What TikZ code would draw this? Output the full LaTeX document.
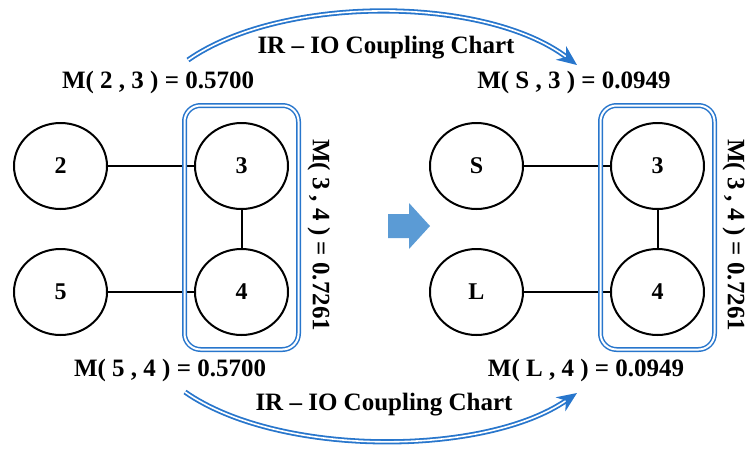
\documentclass[tikz,border=0pt]{standalone}
\usepackage{fontspec}
\setmainfont{Liberation Serif}
\usetikzlibrary{arrows.meta,shapes.geometric}
\definecolor{boxblue}{RGB}{40,118,204}
\definecolor{arrowblue}{RGB}{91,155,213}

\begin{document}
\begin{tikzpicture}[x=1pt,y=-1pt,
    vertex/.style={ellipse,draw,line width=2pt,minimum width=93pt,minimum height=86pt,inner sep=0pt,font=\fontsize{24}{24}\selectfont\bfseries},
    link/.style={line width=2pt},
    value/.style={inner sep=0pt,font=\fontsize{25}{25}\selectfont\bfseries},
    group/.style={draw=boxblue,double=white,double distance=2pt,line width=1.5pt,rounded corners=16pt},
    swing/.style={draw=boxblue,double=white,double distance=1.6pt,line width=1.8pt,-{Stealth[length=20pt,width=17pt]}}]
  \useasboundingbox (0,0) rectangle (748,448);

  % left graph
  \node[vertex] (n2) at (60.5,166) {2};
  \node[vertex] (n5) at (60.5,292) {5};
  \node[vertex] (n3) at (241.5,166) {3};
  \node[vertex] (n4) at (241.5,292) {4};
  \draw[link] (n2) -- (n3);
  \draw[link] (n5) -- (n4);
  \draw[link] (n3) -- (n4);
  \draw[group] (184.5,105.5) rectangle (298.5,349.5);

  % right graph
  \node[vertex] (nS) at (476.5,166) {S};
  \node[vertex] (nL) at (476.5,292) {L};
  \node[vertex] (m3) at (657.5,166) {3};
  \node[vertex] (m4) at (657.5,292) {4};
  \draw[link] (nS) -- (m3);
  \draw[link] (nL) -- (m4);
  \draw[link] (m3) -- (m4);
  \draw[group] (600.5,105.5) rectangle (714.5,349.5);

  % coupling values
  \node[value] (v23) at (158,82) {M( 2 , 3 ) = 0.5700};
  \node[value] (v54) at (170,370) {M( 5 , 4 ) = 0.5700};
  \node[value,rotate=-90] (v34) at (319,235) {M( 3 , 4 ) = 0.7261};
  \node[value] (vS3) at (574,82) {M( S , 3 ) = 0.0949};
  \node[value] (vL4) at (586,370) {M( L , 4 ) = 0.0949};
  \node[value,rotate=-90] (w34) at (734,235) {M( 3 , 4 ) = 0.7261};

  % block arrow between the graphs
  \fill[arrowblue] (388,214) -- (409,214) -- (409,203) -- (430,226)
    -- (409,249) -- (409,238) -- (388,238) -- cycle;

  % curved arrows with chart titles
  \coordinate (ta) at (188,60);
  \coordinate (tb) at (577,65);
  \coordinate (ba) at (185,392);
  \coordinate (bb) at (577,393);
  \draw[swing] (ta) .. controls (281,-5) and (484,-5) .. (tb);
  \draw[swing] (ba) .. controls (278,457) and (484,457) .. (bb);
  \node[value] (t1) at (386,48) {IR -- IO Coupling Chart};
  \node[value] (t2) at (384,405) {IR -- IO Coupling Chart};
\end{tikzpicture}
\end{document}
